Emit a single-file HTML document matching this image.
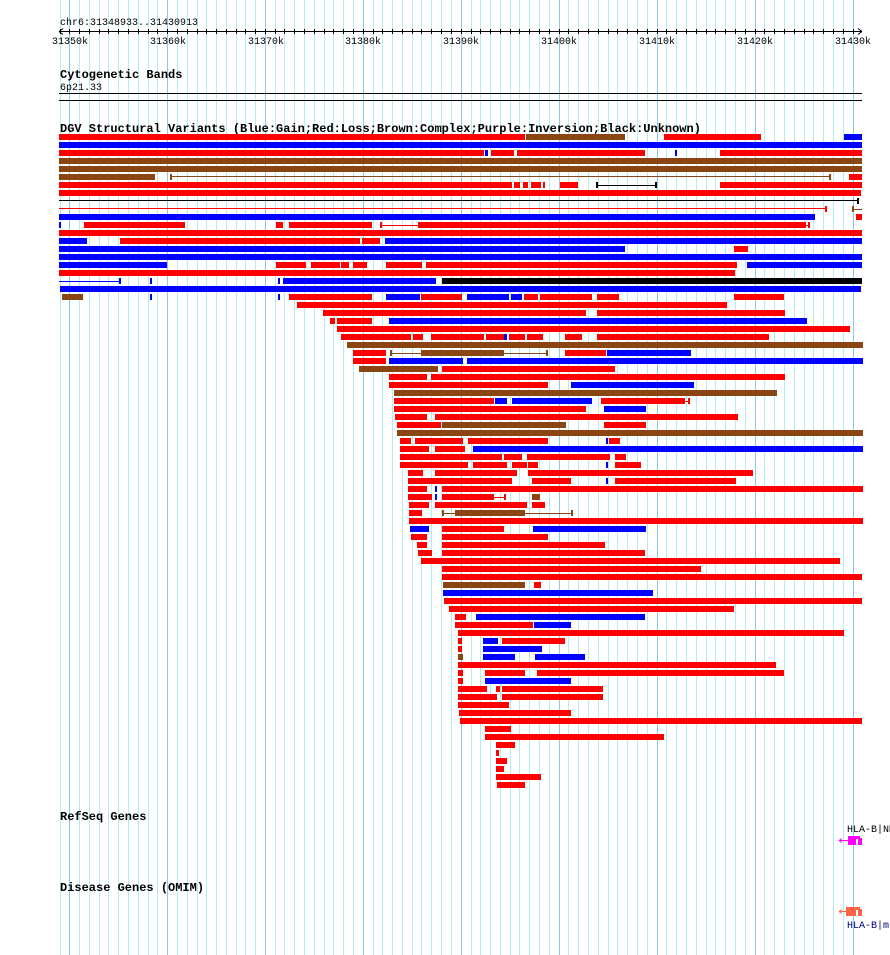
<!DOCTYPE html>
<html><head><meta charset="utf-8"><style>
html,body{margin:0;padding:0;background:#fff;}
svg{display:block;}
text{font-family:"Liberation Mono",monospace;font-size:10px;fill:#000;}
.b{font-weight:bold;font-size:12px;}
</style></head><body>
<svg width="890" height="955" viewBox="0 0 890 955" xmlns="http://www.w3.org/2000/svg">
<rect width="890" height="955" fill="#fff"/>
<path stroke="#b4ecf0" stroke-width="1" fill="none" d="M60.5 0V955M79.5 0V955M89.5 0V955M99.5 0V955M108.5 0V955M118.5 0V955M128.5 0V955M138.5 0V955M148.5 0V955M157.5 0V955M177.5 0V955M187.5 0V955M197.5 0V955M206.5 0V955M216.5 0V955M226.5 0V955M236.5 0V955M245.5 0V955M255.5 0V955M275.5 0V955M284.5 0V955M294.5 0V955M304.5 0V955M314.5 0V955M324.5 0V955M333.5 0V955M343.5 0V955M353.5 0V955M373.5 0V955M382.5 0V955M392.5 0V955M402.5 0V955M412.5 0V955M421.5 0V955M431.5 0V955M441.5 0V955M451.5 0V955M471.5 0V955M480.5 0V955M490.5 0V955M500.5 0V955M510.5 0V955M519.5 0V955M529.5 0V955M539.5 0V955M549.5 0V955M568.5 0V955M578.5 0V955M588.5 0V955M598.5 0V955M608.5 0V955M617.5 0V955M627.5 0V955M637.5 0V955M647.5 0V955M666.5 0V955M676.5 0V955M686.5 0V955M696.5 0V955M706.5 0V955M715.5 0V955M725.5 0V955M735.5 0V955M745.5 0V955M764.5 0V955M774.5 0V955M784.5 0V955M794.5 0V955M804.5 0V955M813.5 0V955M823.5 0V955M833.5 0V955M843.5 0V955"/>
<path stroke="#8cc8e8" stroke-width="1" fill="none" d="M69.5 0V955M167.5 0V955M265.5 0V955M363.5 0V955M461.5 0V955M559.5 0V955M657.5 0V955M755.5 0V955M853.5 0V955"/>
<text x="60" y="25">chr6:31348933..31430913</text>
<path stroke="#000" stroke-width="1" fill="none" d="M59 31.5H862M59 31.5l4 -3M59 31.5l4 3M862 31.5l-4 -3M862 31.5l-4 3"/>
<path stroke="#000" stroke-width="1" fill="none" d="M60.5 29V34M69.5 29V34M79.5 29V34M89.5 29V34M99.5 29V34M108.5 29V34M118.5 29V34M128.5 29V34M138.5 29V34M148.5 29V34M157.5 29V34M167.5 29V34M177.5 29V34M187.5 29V34M197.5 29V34M206.5 29V34M216.5 29V34M226.5 29V34M236.5 29V34M245.5 29V34M255.5 29V34M265.5 29V34M275.5 29V34M284.5 29V34M294.5 29V34M304.5 29V34M314.5 29V34M324.5 29V34M333.5 29V34M343.5 29V34M353.5 29V34M363.5 29V34M373.5 29V34M382.5 29V34M392.5 29V34M402.5 29V34M412.5 29V34M421.5 29V34M431.5 29V34M441.5 29V34M451.5 29V34M461.5 29V34M471.5 29V34M480.5 29V34M490.5 29V34M500.5 29V34M510.5 29V34M519.5 29V34M529.5 29V34M539.5 29V34M549.5 29V34M559.5 29V34M568.5 29V34M578.5 29V34M588.5 29V34M598.5 29V34M608.5 29V34M617.5 29V34M627.5 29V34M637.5 29V34M647.5 29V34M657.5 29V34M666.5 29V34M676.5 29V34M686.5 29V34M696.5 29V34M706.5 29V34M715.5 29V34M725.5 29V34M735.5 29V34M745.5 29V34M755.5 29V34M764.5 29V34M774.5 29V34M784.5 29V34M794.5 29V34M804.5 29V34M813.5 29V34M823.5 29V34M833.5 29V34M843.5 29V34M853.5 29V34"/>
<g text-anchor="middle">
<text x="70" y="44">31350k</text><text x="168" y="44">31360k</text><text x="266" y="44">31370k</text><text x="363" y="44">31380k</text><text x="461" y="44">31390k</text><text x="559" y="44">31400k</text><text x="657" y="44">31410k</text><text x="755" y="44">31420k</text><text x="853" y="44">31430k</text>
</g>
<text class="b" x="60" y="78">Cytogenetic Bands</text>
<text x="60" y="90">6p21.33</text>
<path stroke="#000" stroke-width="1" d="M59 93.5H862M59 100.5H862"/>
<text class="b" x="60" y="132">DGV Structural Variants (Blue:Gain;Red:Loss;Brown:Complex;Purple:Inversion;Black:Unknown)</text>

<g fill="#ff0000">
<rect x="59" y="134" width="466" height="6"/><rect x="664" y="134" width="97" height="6"/>
<rect x="59" y="150" width="425" height="6"/><rect x="491" y="150" width="23" height="6"/><rect x="517" y="150" width="128" height="6"/><rect x="720" y="150" width="142" height="6"/>
<rect x="849" y="174" width="13" height="6"/>
<rect x="59" y="182" width="453" height="6"/><rect x="514" y="182" width="6" height="6"/><rect x="523" y="182" width="5" height="6"/><rect x="531" y="182" width="10" height="6"/><rect x="543" y="182" width="2" height="6"/><rect x="560" y="182" width="18" height="6"/><rect x="720" y="182" width="142" height="6"/>
<rect x="59" y="190" width="802" height="6"/>
<rect x="856" y="214" width="6" height="6"/>
<rect x="84" y="222" width="101" height="6"/><rect x="276" y="222" width="7" height="6"/><rect x="289" y="222" width="83" height="6"/><rect x="418" y="222" width="388" height="6"/>
<rect x="59" y="230" width="803" height="6"/>
<rect x="120" y="238" width="240" height="6"/><rect x="362" y="238" width="18" height="6"/>
<rect x="734" y="246" width="14" height="6"/>
<rect x="276" y="262" width="30" height="6"/><rect x="311" y="262" width="29" height="6"/><rect x="341" y="262" width="8" height="6"/><rect x="353" y="262" width="14" height="6"/><rect x="386" y="262" width="36" height="6"/><rect x="426" y="262" width="311" height="6"/>
<rect x="59" y="270" width="676" height="6"/>
<rect x="289" y="294" width="83" height="6"/><rect x="421" y="294" width="41" height="6"/><rect x="524" y="294" width="14" height="6"/><rect x="540" y="294" width="52" height="6"/><rect x="597" y="294" width="22" height="6"/><rect x="734" y="294" width="50" height="6"/>
<rect x="297" y="302" width="430" height="6"/>
<rect x="323" y="310" width="263" height="6"/><rect x="597" y="310" width="188" height="6"/>
<rect x="330" y="318" width="5" height="6"/><rect x="337" y="318" width="35" height="6"/>
<rect x="337" y="326" width="513" height="6"/>
<rect x="341" y="334" width="70" height="6"/><rect x="413" y="334" width="10" height="6"/><rect x="431" y="334" width="53" height="6"/><rect x="486" y="334" width="18" height="6"/><rect x="509" y="334" width="16" height="6"/><rect x="527" y="334" width="16" height="6"/><rect x="565" y="334" width="17" height="6"/><rect x="597" y="334" width="172" height="6"/>
<rect x="353" y="350" width="33" height="6"/><rect x="565" y="350" width="41" height="6"/>
<rect x="353" y="358" width="33" height="6"/>
<rect x="442" y="366" width="173" height="6"/>
<rect x="389" y="374" width="38" height="6"/><rect x="431" y="374" width="354" height="6"/>
<rect x="389" y="382" width="159" height="6"/>
<rect x="394" y="398" width="100" height="6"/><rect x="601" y="398" width="84" height="6"/>
<rect x="394" y="406" width="192" height="6"/>
<rect x="395" y="414" width="32" height="6"/><rect x="435" y="414" width="303" height="6"/>
<rect x="397" y="422" width="44" height="6"/><rect x="604" y="422" width="42" height="6"/>
<rect x="400" y="438" width="11" height="6"/><rect x="415" y="438" width="48" height="6"/><rect x="468" y="438" width="80" height="6"/><rect x="609" y="438" width="11" height="6"/>
<rect x="400" y="446" width="29" height="6"/><rect x="435" y="446" width="30" height="6"/>
<rect x="400" y="454" width="102" height="6"/><rect x="504" y="454" width="18" height="6"/><rect x="527" y="454" width="83" height="6"/><rect x="615" y="454" width="11" height="6"/>
<rect x="400" y="462" width="68" height="6"/><rect x="473" y="462" width="34" height="6"/><rect x="512" y="462" width="15" height="6"/><rect x="528" y="462" width="10" height="6"/><rect x="615" y="462" width="26" height="6"/>
<rect x="408" y="470" width="15" height="6"/><rect x="435" y="470" width="82" height="6"/><rect x="528" y="470" width="225" height="6"/>
<rect x="408" y="478" width="104" height="6"/><rect x="532" y="478" width="39" height="6"/><rect x="615" y="478" width="121" height="6"/>
<rect x="408" y="486" width="19" height="6"/><rect x="442" y="486" width="421" height="6"/>
<rect x="408" y="494" width="24" height="6"/><rect x="442" y="494" width="52" height="6"/>
<rect x="409" y="502" width="20" height="6"/><rect x="435" y="502" width="92" height="6"/><rect x="532" y="502" width="13" height="6"/>
<rect x="409" y="510" width="13" height="6"/>
<rect x="409" y="518" width="454" height="6"/>
<rect x="442" y="526" width="62" height="6"/>
<rect x="411" y="534" width="16" height="6"/><rect x="442" y="534" width="106" height="6"/>
<rect x="417" y="542" width="10" height="6"/><rect x="442" y="542" width="163" height="6"/>
<rect x="418" y="550" width="14" height="6"/><rect x="442" y="550" width="203" height="6"/>
<rect x="421" y="558" width="419" height="6"/>
<rect x="442" y="566" width="259" height="6"/>
<rect x="442" y="574" width="420" height="6"/>
<rect x="534" y="582" width="7" height="6"/>
<rect x="444" y="598" width="418" height="6"/>
<rect x="449" y="606" width="285" height="6"/>
<rect x="455" y="614" width="11" height="6"/>
<rect x="455" y="622" width="78" height="6"/>
<rect x="458" y="630" width="386" height="6"/>
<rect x="458" y="638" width="4" height="6"/><rect x="502" y="638" width="63" height="6"/>
<rect x="458" y="646" width="4" height="6"/>
<rect x="458" y="662" width="318" height="6"/>
<rect x="458" y="670" width="5" height="6"/><rect x="485" y="670" width="40" height="6"/><rect x="537" y="670" width="247" height="6"/>
<rect x="458" y="678" width="5" height="6"/>
<rect x="458" y="686" width="29" height="6"/><rect x="496" y="686" width="4" height="6"/><rect x="502" y="686" width="101" height="6"/>
<rect x="458" y="694" width="39" height="6"/><rect x="502" y="694" width="101" height="6"/>
<rect x="458" y="702" width="51" height="6"/>
<rect x="459" y="710" width="112" height="6"/>
<rect x="460" y="718" width="402" height="6"/>
<rect x="485" y="726" width="26" height="6"/>
<rect x="485" y="734" width="179" height="6"/>
<rect x="496" y="742" width="19" height="6"/>
<rect x="496" y="750" width="3" height="6"/>
<rect x="496" y="758" width="11" height="6"/>
<rect x="496" y="766" width="8" height="6"/>
<rect x="496" y="774" width="45" height="6"/>
<rect x="497" y="782" width="28" height="6"/>
</g>

<g fill="#0000ff">
<rect x="844" y="134" width="18" height="6"/>
<rect x="59" y="142" width="803" height="6"/>
<rect x="485" y="150" width="3" height="6"/><rect x="675" y="150" width="2" height="6"/>
<rect x="59" y="214" width="756" height="6"/>
<rect x="59" y="222" width="2" height="6"/>
<rect x="59" y="238" width="28" height="6"/><rect x="385" y="238" width="477" height="6"/>
<rect x="59" y="246" width="566" height="6"/>
<rect x="59" y="254" width="803" height="6"/>
<rect x="59" y="262" width="108" height="6"/><rect x="747" y="262" width="115" height="6"/>
<rect x="150" y="278" width="2" height="6"/><rect x="278" y="278" width="2" height="6"/><rect x="283" y="278" width="153" height="6"/>
<rect x="60" y="286" width="801" height="6"/>
<rect x="150" y="294" width="2" height="6"/><rect x="278" y="294" width="2" height="6"/><rect x="386" y="294" width="34" height="6"/><rect x="467" y="294" width="42" height="6"/><rect x="511" y="294" width="11" height="6"/>
<rect x="389" y="318" width="418" height="6"/>
<rect x="504" y="334" width="3" height="6"/>
<rect x="607" y="350" width="84" height="6"/>
<rect x="389" y="358" width="74" height="6"/><rect x="467" y="358" width="396" height="6"/>
<rect x="571" y="382" width="123" height="6"/>
<rect x="495" y="398" width="12" height="6"/><rect x="512" y="398" width="80" height="6"/>
<rect x="604" y="406" width="42" height="6"/>
<rect x="606" y="438" width="2" height="6"/>
<rect x="473" y="446" width="390" height="6"/>
<rect x="606" y="462" width="2" height="6"/>
<rect x="606" y="478" width="2" height="6"/>
<rect x="435" y="486" width="2" height="6"/>
<rect x="435" y="494" width="2" height="6"/>
<rect x="410" y="526" width="19" height="6"/><rect x="533" y="526" width="113" height="6"/>
<rect x="443" y="590" width="210" height="6"/>
<rect x="476" y="614" width="169" height="6"/>
<rect x="534" y="622" width="37" height="6"/>
<rect x="483" y="638" width="15" height="6"/>
<rect x="483" y="646" width="59" height="6"/>
<rect x="483" y="654" width="32" height="6"/><rect x="535" y="654" width="50" height="6"/>
<rect x="485" y="678" width="86" height="6"/>
</g>

<g fill="#8b4513">
<rect x="526" y="134" width="99" height="6"/>
<rect x="59" y="158" width="803" height="6"/>
<rect x="59" y="166" width="803" height="6"/>
<rect x="59" y="174" width="96" height="6"/>
<rect x="62" y="294" width="21" height="6"/>
<rect x="347" y="342" width="516" height="6"/>
<rect x="421" y="350" width="83" height="6"/>
<rect x="359" y="366" width="79" height="6"/>
<rect x="394" y="390" width="383" height="6"/>
<rect x="442" y="422" width="124" height="6"/>
<rect x="397" y="430" width="466" height="6"/>
<rect x="532" y="494" width="8" height="6"/>
<rect x="455" y="510" width="70" height="6"/>
<rect x="443" y="582" width="82" height="6"/>
<rect x="458" y="654" width="5" height="6"/>
</g>
<rect x="442" y="278" width="420" height="6" fill="#000"/>

<g fill="#8b4513">
<rect x="170" y="176" width="660" height="1"/><rect x="170" y="174" width="2" height="6"/><rect x="829" y="174" width="2" height="6"/>
<rect x="852" y="209" width="10" height="1"/><rect x="852" y="206" width="2" height="6"/>
<rect x="390" y="353" width="157" height="1"/><rect x="390" y="350" width="2" height="6"/><rect x="546" y="350" width="2" height="6"/>
<rect x="442" y="513" width="130" height="1"/><rect x="442" y="510" width="2" height="6"/><rect x="571" y="510" width="2" height="6"/>
</g>
<g fill="#000">
<rect x="596" y="185" width="60" height="1"/><rect x="596" y="182" width="2" height="6"/><rect x="655" y="182" width="2" height="6"/>
<rect x="59" y="200" width="799" height="1"/><rect x="857" y="198" width="2" height="6"/>
</g>
<g fill="#ff0000">
<rect x="59" y="208" width="767" height="1"/><rect x="825" y="206" width="2" height="6"/>
<rect x="380" y="225" width="38" height="1"/><rect x="380" y="222" width="2" height="6"/><rect x="806" y="225" width="3" height="1"/><rect x="808" y="222" width="2" height="6"/>
<rect x="685" y="401" width="4" height="1"/><rect x="688" y="398" width="2" height="6"/>
<rect x="494" y="497" width="11" height="1"/><rect x="504" y="494" width="2" height="6"/>
</g>
<g fill="#0000ff">
<rect x="59" y="281" width="61" height="1"/><rect x="119" y="278" width="2" height="6"/>
</g>

<text class="b" x="60" y="820">RefSeq Genes</text>
<text x="847" y="832">HLA-B|NM</text>
<path d="M839 840.5H848M839 840.5l3 -2M839 840.5l3 2" stroke="#ff00ff" fill="none"/>
<rect x="848" y="836" width="8" height="9" fill="#ff00ff"/><rect x="858" y="836" width="2" height="9" fill="#ff00ff"/><rect x="856" y="836" width="2" height="3" fill="#ff00ff"/><rect x="860" y="838" width="2" height="7" fill="#ff00ff"/>
<text class="b" x="60" y="891">Disease Genes (OMIM)</text>
<path d="M839 911.5H848M839 911.5l3 -2M839 911.5l3 2" stroke="#ff6347" fill="none"/>
<rect x="846" y="907" width="10" height="9" fill="#ff6347"/><rect x="858" y="907" width="2" height="9" fill="#ff6347"/><rect x="856" y="907" width="2" height="3" fill="#ff6347"/><rect x="860" y="909" width="2" height="7" fill="#ff6347"/>
<text x="847" y="928" style="fill:#000080">HLA-B|m</text>
</svg>
</body></html>
